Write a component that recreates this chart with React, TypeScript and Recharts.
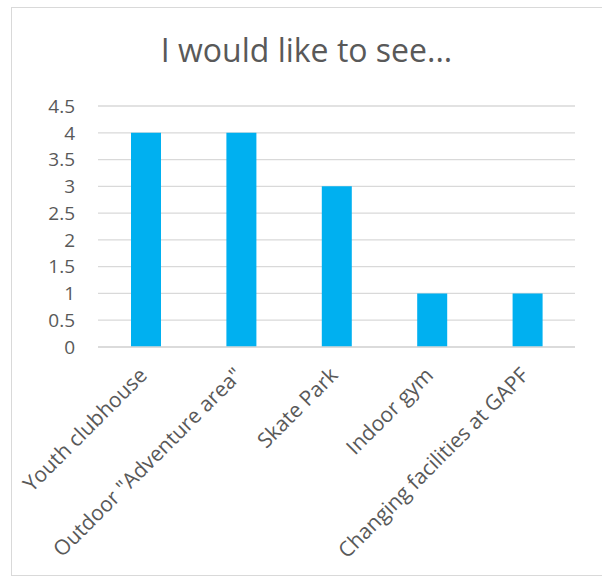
import { BarChart, Bar, XAxis, YAxis, CartesianGrid } from "recharts";

// values
const categories = [
  "Youth clubhouse",
  'Outdoor "Adventure area"',
  "Skate Park",
  "Indoor gym",
  "Changing facilities at GAPF",
];
const counts = [4, 4, 3, 1, 1];
const yTicks = [0, 0.5, 1, 1.5, 2, 2.5, 3, 3.5, 4, 4.5];

const data = categories.map((name, i) => ({ name, value: counts[i] }));

const textColor = "#595959";
const font = "'Open Sans', sans-serif";

export default function App() {
  return (
    <div style={{ position: "absolute", left: 0, top: 0, width: 602, height: 578, background: "#fff", overflow: "hidden" }}>
      <div
        style={{
          position: "absolute",
          left: 11,
          top: 7,
          width: 591,
          height: 569,
          boxSizing: "border-box",
          borderLeft: "1px solid #d9d9d9",
          borderTop: "1px solid #d9d9d9",
          borderBottom: "1px solid #d9d9d9",
        }}
      />
      <div
        style={{
          position: "absolute",
          left: 11,
          width: 591,
          top: 30,
          textAlign: "center",
          fontFamily: font,
          fontSize: 32,
          color: textColor,
          lineHeight: "40px",
        }}
      >
        I would like to see...
      </div>
      <BarChart
        width={602}
        height={578}
        data={data}
        margin={{ top: 106, right: 27, bottom: 0, left: 0 }}
        barSize={30}
        style={{ position: "absolute", left: 0, top: 0 }}
      >
        <CartesianGrid vertical={false} stroke="#d9d9d9" strokeWidth={1.3} />
        <XAxis
          dataKey="name"
          interval={0}
          height={231}
          tickLine={false}
          tickSize={0}
          tickMargin={19}
          axisLine={{ stroke: "#d9d9d9", strokeWidth: 1.3 }}
          angle={-45}
          textAnchor="end"
          tick={{ fill: textColor, fontSize: 21, fontFamily: font, dx: -8 }}
        />
        <YAxis
          width={98}
          domain={[0, 4.5]}
          ticks={yTicks}
          interval={0}
          axisLine={false}
          tickLine={false}
          tickSize={0}
          tickMargin={23}
          tick={{ fill: textColor, fontSize: 19, fontFamily: font }}
        />
        <Bar dataKey="value" fill="#00B0F0" isAnimationActive={false} />
      </BarChart>
    </div>
  );
}
